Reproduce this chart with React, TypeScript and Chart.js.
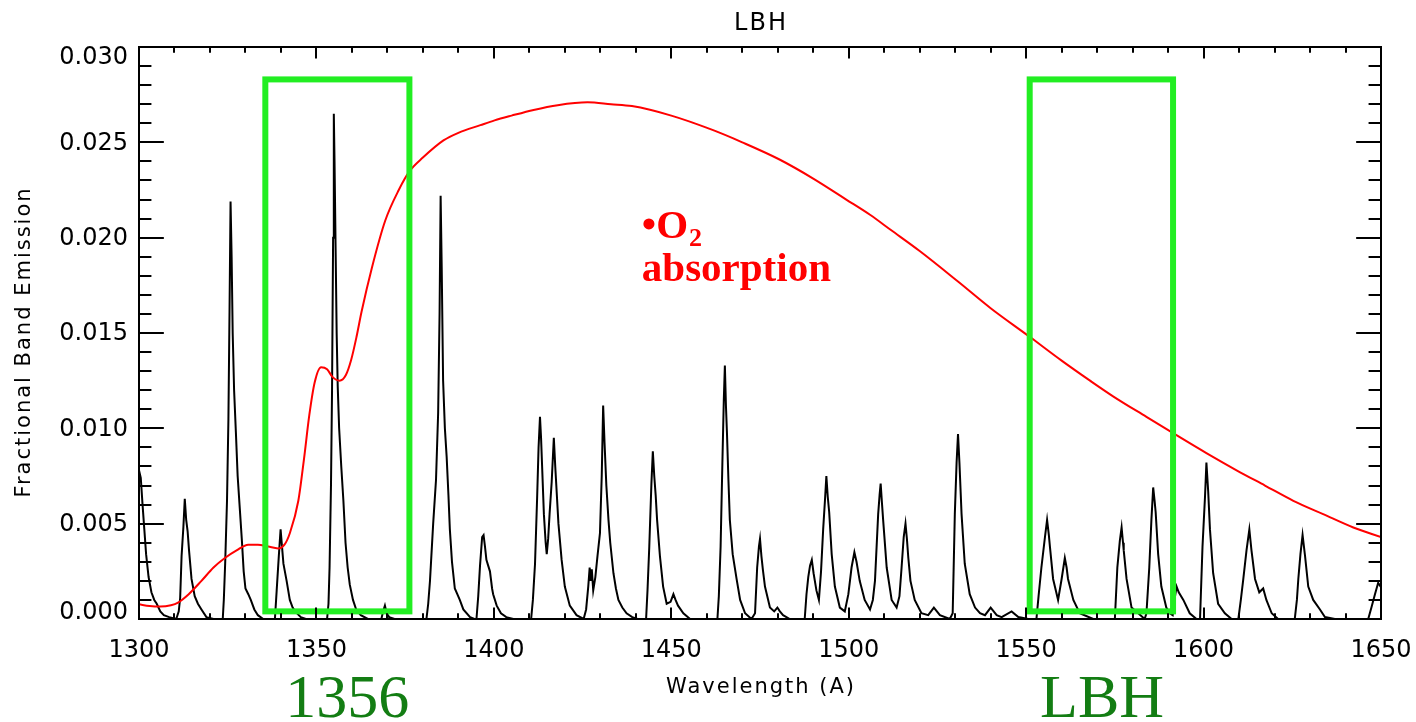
import React, { useEffect, useRef } from "react";
import { Chart, registerables } from "chart.js";

Chart.register(...registerables);

// ---------- DATA ----------
const specWavelength = [
  1300.0, 1300.5, 1301.0, 1301.5, 1302.0, 1302.7, 1303.5, 1304.3, 1305.0, 1306.0, 1307.0, 1308.5, 1310.5,
  1311.2, 1311.6, 1312.0, 1312.5, 1312.9, 1313.3, 1313.7, 1314.1, 1314.8, 1315.7, 1316.6, 1317.6, 1319.0, 1321.0,
  1323.6, 1323.9, 1324.3, 1324.8, 1325.2, 1325.5, 1325.8, 1326.1, 1326.4, 1326.8, 1327.3, 1327.8, 1328.4, 1329.0,
  1329.5, 1330.0, 1330.8, 1331.5, 1332.5, 1333.5, 1335.0,
  1338.3, 1338.8, 1339.4, 1339.9, 1340.3, 1340.7, 1341.6, 1342.5, 1343.3, 1344.0, 1345.6, 1347.0,
  1353.0, 1353.4, 1353.7, 1354.1, 1354.4, 1354.7, 1354.9, 1355.1, 1355.4, 1355.7, 1356.0, 1356.4, 1357.0, 1357.6,
  1358.2, 1358.8, 1359.4, 1360.3, 1361.2, 1362.5, 1364.5,
  1368.3, 1368.8, 1369.3, 1369.8, 1370.5, 1372.0,
  1381.0, 1381.5, 1382.0, 1382.9, 1383.7, 1384.3, 1384.7, 1385.0, 1385.3, 1385.7, 1386.2, 1386.7, 1387.2, 1387.6,
  1388.2, 1389.0, 1389.7, 1390.4, 1391.4, 1393.3, 1394.5,
  1395.1, 1395.6, 1396.1, 1396.7, 1397.1, 1397.5, 1397.9, 1398.4, 1398.9, 1399.5, 1399.8, 1400.8, 1402.0, 1403.5, 1405.5,
  1410.5, 1411.0, 1411.6, 1412.2, 1412.6, 1413.0, 1413.3, 1413.6, 1414.1, 1414.6, 1414.9, 1415.3, 1415.7, 1416.3,
  1416.9, 1417.3, 1417.6, 1418.2, 1419.1, 1420.0, 1421.4, 1423.3, 1425.3,
  1426.0, 1426.6, 1427.0, 1427.3, 1427.6, 1428.0, 1428.6, 1429.2, 1429.9, 1430.4, 1430.8, 1431.2, 1431.7, 1432.3,
  1432.8, 1433.7, 1434.4, 1435.1, 1436.2, 1437.4, 1439.0, 1440.5,
  1442.9, 1443.3, 1443.8, 1444.4, 1444.8, 1445.2, 1445.6, 1446.0, 1446.8, 1447.7, 1448.7, 1449.8, 1450.6, 1451.2,
  1451.9, 1453.4, 1455.3,
  1463.0, 1463.4, 1463.9, 1464.4, 1464.8, 1465.1, 1465.4, 1465.7, 1466.1, 1466.5, 1467.3, 1468.4, 1469.4, 1470.8, 1472.6,
  1473.6, 1474.2, 1474.7, 1475.0, 1475.4, 1475.8, 1476.4, 1477.8, 1479.0, 1479.9, 1480.6, 1481.5, 1483.4,
  1487.6, 1488.1, 1488.6, 1489.1, 1489.6, 1490.1, 1490.9, 1491.6, 1492.2, 1492.8, 1493.3, 1493.7, 1494.1, 1494.5,
  1495.2, 1496.1, 1497.5, 1498.9,
  1499.9, 1500.8, 1501.6, 1502.2, 1503.1, 1504.5, 1506.0, 1506.8, 1507.4, 1508.3, 1508.7, 1509.0, 1509.4, 1509.7,
  1510.7, 1512.1, 1513.5, 1514.3, 1514.9, 1515.5, 1516.0, 1516.4, 1516.8, 1517.4, 1518.6, 1520.5, 1522.4, 1524.0,
  1525.7, 1528.5,
  1529.3, 1529.9, 1530.4, 1530.8, 1531.2, 1531.8, 1532.7, 1534.1, 1535.6, 1537.0, 1538.4, 1540.0, 1541.7, 1543.1,
  1545.9, 1547.8, 1550.6,
  1552.9, 1553.5, 1554.3, 1555.3, 1555.9, 1556.4, 1556.7, 1557.6, 1559.0, 1560.0, 1560.9, 1561.4, 1561.8, 1563.3,
  1565.1, 1568.9,
  1575.0, 1575.7, 1576.4, 1576.9, 1577.3, 1577.5, 1578.3, 1579.7, 1581.6, 1583.4,
  1583.9, 1584.7, 1585.3, 1585.8, 1586.2, 1586.5, 1587.2, 1588.1, 1589.5, 1590.5, 1591.3, 1591.8, 1592.4, 1593.0,
  1594.3, 1596.1, 1598.0,
  1599.0, 1599.7, 1600.4, 1600.8, 1601.3, 1601.8, 1602.7, 1604.1, 1606.0, 1607.9,
  1609.8, 1610.5, 1611.2, 1612.1, 1612.9, 1613.5, 1614.5, 1615.7, 1616.8, 1617.7, 1619.2, 1621.0,
  1625.7, 1626.3, 1626.7, 1627.3, 1627.9, 1628.6, 1629.5, 1630.9, 1632.8, 1634.2, 1637.0,
  1646.4, 1647.3, 1648.3, 1649.2, 1649.9,
];

const specEmission = [
  0.0078, 0.0074, 0.0060, 0.0047, 0.0034, 0.0022, 0.0014, 0.0010, 0.0008, 0.0004, 0.0002, 0.0001, 0.0000,
  0.0004, 0.0011, 0.0033, 0.0048, 0.0063, 0.0052, 0.0046, 0.0036, 0.0021, 0.0012, 0.0008, 0.0005, 0.0001, 0.0000,
  0.0000, 0.0010, 0.0030, 0.0062, 0.0105, 0.0160, 0.0219, 0.0190, 0.0150, 0.0120, 0.0098, 0.0075, 0.0058, 0.0041,
  0.0025, 0.0016, 0.0013, 0.0010, 0.0005, 0.0002, 0.0000,
  0.0000, 0.0015, 0.0033, 0.0047, 0.0038, 0.0029, 0.0020, 0.0010, 0.0006, 0.0004, 0.0001, 0.0000,
  0.0000, 0.0008, 0.0027, 0.0070, 0.0120, 0.0200, 0.0265, 0.0240, 0.0195, 0.0150, 0.0122, 0.0100, 0.0080, 0.0062,
  0.0040, 0.0027, 0.0018, 0.0010, 0.0005, 0.0002, 0.0000,
  0.0000, 0.0004, 0.0007, 0.0003, 0.0001, 0.0000,
  0.0000, 0.0008, 0.0020, 0.0050, 0.0073, 0.0108, 0.0160, 0.0222, 0.0185, 0.0125, 0.0100, 0.0085, 0.0065, 0.0047,
  0.0030, 0.0016, 0.0013, 0.0010, 0.0005, 0.0001, 0.0000,
  0.0000, 0.0012, 0.0028, 0.0043, 0.0044, 0.0038, 0.0031, 0.0028, 0.0025, 0.0016, 0.0013, 0.0007, 0.0003, 0.0001, 0.0000,
  0.0000, 0.0010, 0.0029, 0.0064, 0.0090, 0.0106, 0.0095, 0.0080, 0.0055, 0.0040, 0.0034, 0.0042, 0.0055, 0.0072,
  0.0095, 0.0080, 0.0070, 0.0050, 0.0031, 0.0017, 0.0007, 0.0002, 0.0000,
  0.0005, 0.0017, 0.0027, 0.0020, 0.0026, 0.0015, 0.0022, 0.0033, 0.0045, 0.0075, 0.0112, 0.0092, 0.0070, 0.0052,
  0.0040, 0.0024, 0.0016, 0.0010, 0.0006, 0.0003, 0.0001, 0.0000,
  0.0000, 0.0015, 0.0038, 0.0071, 0.0088, 0.0075, 0.0065, 0.0052, 0.0033, 0.0017, 0.0008, 0.0009, 0.0013, 0.0010,
  0.0007, 0.0003, 0.0000,
  0.0000, 0.0012, 0.0038, 0.0082, 0.0115, 0.0133, 0.0112, 0.0097, 0.0073, 0.0052, 0.0034, 0.0021, 0.0010, 0.0003, 0.0000,
  0.0003, 0.0027, 0.0038, 0.0042, 0.0033, 0.0026, 0.0017, 0.0006, 0.0004, 0.0006, 0.0004, 0.0002, 0.0000,
  0.0000, 0.0013, 0.0022, 0.0028, 0.0031, 0.0024, 0.0015, 0.0010, 0.0025, 0.0047, 0.0062, 0.0075, 0.0064, 0.0056,
  0.0034, 0.0017, 0.0006, 0.0004,
  0.0013, 0.0027, 0.0035, 0.0030, 0.0020, 0.0010, 0.0005, 0.0010, 0.0020, 0.0055, 0.0065, 0.0071, 0.0060, 0.0052,
  0.0027, 0.0010, 0.0006, 0.0012, 0.0027, 0.0043, 0.0050, 0.0042, 0.0032, 0.0020, 0.0010, 0.0003, 0.0002, 0.0006,
  0.0002, 0.0000,
  0.0003, 0.0055, 0.0082, 0.0097, 0.0082, 0.0055, 0.0029, 0.0013, 0.0006, 0.0003, 0.0002, 0.0006, 0.0002, 0.0001,
  0.0004, 0.0001, 0.0000,
  0.0000, 0.0012, 0.0027, 0.0043, 0.0052, 0.0044, 0.0038, 0.0021, 0.0010, 0.0021, 0.0032, 0.0027, 0.0021, 0.0010,
  0.0003, 0.0000,
  0.0000, 0.0027, 0.0041, 0.0048, 0.0040, 0.0036, 0.0021, 0.0006, 0.0003, 0.0000,
  0.0003, 0.0027, 0.0052, 0.0069, 0.0062, 0.0056, 0.0034, 0.0017, 0.0006, 0.0003, 0.0002, 0.0010, 0.0017, 0.0014,
  0.0010, 0.0003, 0.0000,
  0.0000, 0.0038, 0.0064, 0.0082, 0.0067, 0.0047, 0.0024, 0.0008, 0.0003, 0.0000,
  0.0000, 0.0010, 0.0021, 0.0036, 0.0047, 0.0036, 0.0021, 0.0014, 0.0016, 0.0010, 0.0003, 0.0000,
  0.0000, 0.0010, 0.0021, 0.0034, 0.0044, 0.0033, 0.0017, 0.0010, 0.0005, 0.0001, 0.0000,
  0.0000, 0.0006, 0.0013, 0.0019, 0.0017,
];

const o2Wavelength = [
  1300, 1303, 1306, 1309, 1311, 1314, 1317.6, 1321, 1324.2, 1327.5, 1330.8, 1333.5, 1336.4, 1339.2, 1341,
  1342.5, 1344.9, 1346.5, 1348, 1349.5, 1351.3, 1353, 1354.5, 1356.5, 1358.3, 1359.8, 1361.3, 1362.7, 1365.6,
  1369.4, 1373.2, 1376.3, 1380, 1385.8, 1390, 1396.2, 1400.2, 1405, 1411.2, 1418, 1426.4, 1433, 1438.9, 1450,
  1461.6, 1470, 1480.5, 1490, 1499.3, 1506, 1511.9, 1520, 1530.8, 1540, 1551, 1560, 1568, 1574.5, 1583.9,
  1590.5, 1600.8, 1609.3, 1617.3, 1625.3, 1633.7, 1642.2, 1650,
];

const o2Absorption = [
  0.00077, 0.00068, 0.00065, 0.00072, 0.00086, 0.0013, 0.0020, 0.0027, 0.0032, 0.0036, 0.0039, 0.0039, 0.0038,
  0.0037, 0.0039, 0.0045, 0.0062, 0.0084, 0.0107, 0.0124, 0.0132, 0.0131, 0.0127, 0.0125, 0.0128, 0.0136, 0.0148,
  0.0161, 0.0184, 0.0209, 0.0225, 0.0235, 0.0242, 0.0251, 0.0255, 0.0259, 0.02615, 0.0264, 0.0267, 0.02695, 0.0271,
  0.0270, 0.0269, 0.0264, 0.02565, 0.0250, 0.0241, 0.0231, 0.0220, 0.0212, 0.0204, 0.0193, 0.0177, 0.0163, 0.0148,
  0.01355, 0.0125, 0.01168, 0.0106, 0.00985, 0.0087, 0.0078, 0.0070, 0.0062, 0.0055, 0.0048, 0.0043,
];

const xTickValues = [1300, 1350, 1400, 1450, 1500, 1550, 1600, 1650];
const yTickValues = [0.0, 0.005, 0.01, 0.015, 0.02, 0.025, 0.03];

const boxWlMin = [1335.6, 1551.0];
const boxWlMax = [1376.2, 1591.4];
const boxValMin = [0.0004, 0.0004];
const boxValMax = [0.0283, 0.0283];
const boxLabels = ["1356", "LBH"];
const boxLabelWl = [1358.7, 1571.4];

const chartTitle = "LBH";
const xAxisTitle = "Wavelength (A)";
const yAxisTitle = "Fractional Band Emission";
const noteBullet = "\u2022O";
const noteSub = "2";
const noteWord = "absorption";
const noteWl = 1441.7;

// ---------- PLUGIN ----------
const idlFrame = {
  id: "idlFrame",
  afterDatasetsDraw(chart: any) {
    const { ctx, chartArea: a, scales } = chart;
    const x = scales.x;
    const y = scales.y;
    ctx.save();

    // green boxes
    ctx.strokeStyle = "#22ee22";
    ctx.lineWidth = 6;
    ctx.lineJoin = "miter";
    for (let i = 0; i < boxWlMin.length; i++) {
      const x0 = x.getPixelForValue(boxWlMin[i]);
      const x1 = x.getPixelForValue(boxWlMax[i]);
      const y0 = y.getPixelForValue(boxValMax[i]);
      const y1 = y.getPixelForValue(boxValMin[i]);
      ctx.strokeRect(x0, y0, x1 - x0, y1 - y0);
    }

    // frame
    ctx.strokeStyle = "#000";
    ctx.lineWidth = 2;
    ctx.strokeRect(a.left, a.top, a.right - a.left, a.bottom - a.top);

    const h = a.bottom - a.top;
    const w = a.right - a.left;
    const xMaj = 0.02 * h;
    const yMaj = 0.02 * w;
    ctx.beginPath();
    for (let i = 0; i < xTickValues.length; i++) {
      const v = xTickValues[i];
      const px = Math.round(x.getPixelForValue(v));
      ctx.moveTo(px, a.bottom); ctx.lineTo(px, a.bottom - xMaj);
      ctx.moveTo(px, a.top); ctx.lineTo(px, a.top + xMaj);
      if (i < xTickValues.length - 1) {
        const step = (xTickValues[i + 1] - v) / 5;
        for (let k = 1; k < 5; k++) {
          const mx = Math.round(x.getPixelForValue(v + k * step));
          ctx.moveTo(mx, a.bottom); ctx.lineTo(mx, a.bottom - xMaj / 2);
          ctx.moveTo(mx, a.top); ctx.lineTo(mx, a.top + xMaj / 2);
        }
      }
    }
    for (let i = 0; i < yTickValues.length; i++) {
      const v = yTickValues[i];
      const py = Math.round(y.getPixelForValue(v));
      ctx.moveTo(a.left, py); ctx.lineTo(a.left + yMaj, py);
      ctx.moveTo(a.right, py); ctx.lineTo(a.right - yMaj, py);
      if (i < yTickValues.length - 1) {
        const step = (yTickValues[i + 1] - v) / 5;
        for (let k = 1; k < 5; k++) {
          const my = Math.round(y.getPixelForValue(v + k * step));
          ctx.moveTo(a.left, my); ctx.lineTo(a.left + yMaj / 2, my);
          ctx.moveTo(a.right, my); ctx.lineTo(a.right - yMaj / 2, my);
        }
      }
    }
    ctx.stroke();

    // tick labels
    ctx.fillStyle = "#000";
    ctx.font = '24px "DejaVu Sans"';
    ctx.textAlign = "center";
    ctx.textBaseline = "middle";
    for (const v of xTickValues) {
      ctx.fillText(String(v), x.getPixelForValue(v), a.bottom + 32);
    }
    ctx.textAlign = "right";
    for (const v of yTickValues) {
      let py = y.getPixelForValue(v);
      py = Math.max(a.top + 10, Math.min(a.bottom - 7, py));
      ctx.fillText(v.toFixed(3), a.left - 11, py + 1);
    }

    // titles
    ctx.textAlign = "center";
    (ctx as any).letterSpacing = "2px";
    ctx.font = '24px "DejaVu Sans"';
    ctx.fillText(chartTitle, (a.left + a.right) / 2 + 1, 24);
    ctx.font = '21px "DejaVu Sans"';
    ctx.fillText(xAxisTitle, (a.left + a.right) / 2 + 1, 688);
    ctx.save();
    ctx.translate(25, 342);
    ctx.rotate(-Math.PI / 2);
    ctx.fillText(yAxisTitle, 0, 0);
    ctx.restore();
    (ctx as any).letterSpacing = "0px";

    // green labels
    ctx.fillStyle = "#137d13";
    ctx.font = '62px "Liberation Serif"';
    ctx.textBaseline = "alphabetic";
    for (let i = 0; i < boxLabels.length; i++) {
      ctx.fillText(boxLabels[i], x.getPixelForValue(boxLabelWl[i]), 717);
    }

    // red note
    ctx.fillStyle = "#ff0000";
    ctx.textAlign = "left";
    const nx = x.getPixelForValue(noteWl);
    ctx.font = 'bold 41px "Liberation Serif"';
    ctx.fillText(noteBullet, nx, 238);
    const bw = ctx.measureText(noteBullet).width;
    ctx.font = 'bold 26px "Liberation Serif"';
    ctx.fillText(noteSub, nx + bw + 1, 246);
    ctx.font = 'bold 41px "Liberation Serif"';
    ctx.fillText(noteWord, nx, 281);

    ctx.restore();
  },
};

export default function App() {
  const canvasRef = useRef<HTMLCanvasElement | null>(null);

  useEffect(() => {
    const canvas = canvasRef.current;
    if (!canvas) return;
    const spectrum = specWavelength.map((wl, i) => ({ x: wl, y: specEmission[i] }));
    const o2 = o2Wavelength.map((wl, i) => ({ x: wl, y: o2Absorption[i] }));
    const chart = new Chart(canvas, {
      type: "line",
      data: {
        datasets: [
          {
            data: o2,
            borderColor: "#ff0000",
            borderWidth: 2,
            pointRadius: 0,
            cubicInterpolationMode: "monotone",
            fill: false,
          },
          {
            data: spectrum,
            borderColor: "#000000",
            borderWidth: 2,
            pointRadius: 0,
            tension: 0,
            fill: false,
          },
        ],
      },
      options: {
        animation: false,
        responsive: false,
        devicePixelRatio: 1,
        layout: { padding: { left: 0, top: 47, right: 35, bottom: 0 } },
        plugins: { legend: { display: false }, tooltip: { enabled: false }, title: { display: false } },
        scales: {
          x: {
            type: "linear",
            min: 1300,
            max: 1650,
            grid: { display: false },
            border: { display: false },
            ticks: { display: false },
            afterFit: (s: any) => { s.height = 103; },
          },
          y: {
            type: "linear",
            min: 0,
            max: 0.03,
            grid: { display: false },
            border: { display: false },
            ticks: { display: false },
            afterFit: (s: any) => { s.width = 139; },
          },
        },
      },
      plugins: [idlFrame],
    });
    return () => chart.destroy();
  }, []);

  return (
    <div style={{ position: "absolute", left: 0, top: 0, width: 1416, height: 722, background: "#fff" }}>
      <canvas ref={canvasRef} width={1416} height={722} style={{ width: 1416, height: 722 }} />
    </div>
  );
}
